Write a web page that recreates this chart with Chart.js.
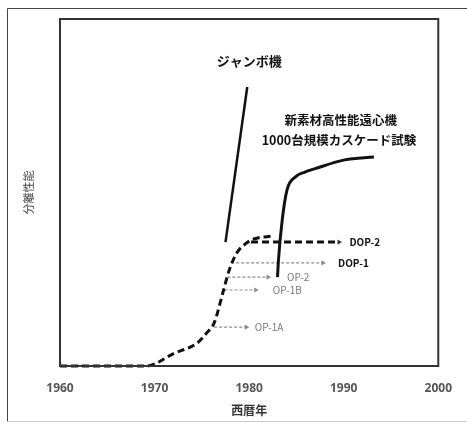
<!DOCTYPE html>
<html><head><meta charset="utf-8">
<script src="https://cdn.jsdelivr.net/npm/chart.js@4/dist/chart.umd.min.js"></script>
<style>html,body{margin:0;padding:0;background:#fff}#wrap{width:467px;height:423px}</style>
</head><body><div id="wrap"><canvas id="c" width="467" height="423"></canvas></div>
<script>
const xTicks = [1960, 1970, 1980, 1990, 2000];
const mainX = [1960, 1969.1, 1972.1, 1974.5, 1975.5, 1976.3, 1977.3, 1977.9, 1978.7, 1979.7, 1980.5, 1982.5];
const mainY = [0, 0, 3.7, 6.6, 9.5, 12.4, 21.9, 27.7, 32.6, 35.4, 36.6, 37.5];
const jumboX = [1977.5, 1979.8];
const jumboY = [35.7, 80.4];
const newMatX = [1983.0, 1983.1, 1983.5, 1984.0, 1984.9, 1985.9, 1986.9, 1990.1, 1993.2];
const newMatY = [25.6, 30.5, 42.1, 50.7, 54.5, 55.9, 56.8, 59.4, 60.2];
const dop2X = [1980.2, 1989.5]; const dop2Y = [35.7, 35.7];
const dop1X = [1978.1, 1987.8]; const dop1Y = [29.7, 29.7];
const op2X = [1977.7, 1982.0]; const op2Y = [25.6, 25.6];
const op1bX = [1977.4, 1980.7]; const op1bY = [21.9, 21.9];
const op1aX = [1976.3, 1979.7]; const op1aY = [11.2, 11.2];
const labelTexts = ["DOP-2", "DOP-1", "OP-2", "OP-1B", "OP-1A", "ジャンボ機", "新素材高性能遠心機", "1000台規模カスケード試験"];
const labelX = [1990.6, 1989.4, 1984.0, 1982.5, 1980.6, 1980.0, 1989.7, 1989.5];
const labelY = [35.7, 29.7, 25.6, 21.9, 11.2, 87.9, 70.9, 65.1];
const xTitle = "西暦年";
const yTitle = "分離性能";

const pts = (xs, ys) => xs.map((x, i) => ({x: x, y: ys[i]}));
const lastOnly = r => ctx => ctx.dataIndex === ctx.dataset.data.length - 1 ? r : 0;
const jp = '"Noto Sans CJK JP", "Noto Sans", sans-serif';

const labelStyles = [
  {font: 'bold 10px ' + jp, color: '#111', align: 'left'},
  {font: 'bold 10px ' + jp, color: '#111', align: 'left'},
  {font: '10px ' + jp, color: '#777', align: 'left'},
  {font: '10px ' + jp, color: '#777', align: 'left'},
  {font: '10px ' + jp, color: '#777', align: 'left'},
  {font: 'bold 13px ' + jp, color: '#111', align: 'center'},
  {font: 'bold 12.5px ' + jp, color: '#111', align: 'center'},
  {font: 'bold 12.5px ' + jp, color: '#111', align: 'center'}
];

const framePlugin = {
  id: 'frame',
  beforeDraw(chart) {
    const c = chart.ctx;
    c.save();
    c.strokeStyle = '#444'; c.lineWidth = 1;
    c.beginPath();
    c.moveTo(7.5, 421.5); c.lineTo(7.5, 8.5); c.lineTo(467, 8.5);
    c.stroke();
    c.strokeStyle = '#ccc';
    c.beginPath(); c.moveTo(7.5, 421.5); c.lineTo(467, 421.5); c.stroke();
    c.restore();
  },
  afterDatasetsDraw(chart) {
    const c = chart.ctx, a = chart.chartArea;
    const xs = chart.scales.x, ys = chart.scales.y;
    c.save();
    c.strokeStyle = '#333'; c.lineWidth = 2;
    c.strokeRect(a.left, a.top, a.right - a.left, a.bottom - a.top);
    c.textBaseline = 'middle';
    labelTexts.forEach((t, i) => {
      const s = labelStyles[i];
      c.font = s.font; c.fillStyle = s.color; c.textAlign = s.align;
      c.fillText(t, xs.getPixelForValue(labelX[i]), ys.getPixelForValue(labelY[i]));
    });
    c.restore();
  }
};

const thin = (xs, ys) => ({
  data: pts(xs, ys), borderColor: '#8a8a8a', borderWidth: 1.2, borderDash: [3, 2],
  pointStyle: 'triangle', rotation: 90, pointRadius: lastOnly(3),
  pointBackgroundColor: '#8a8a8a', pointBorderColor: '#8a8a8a', pointBorderWidth: 0
});

new Chart(document.getElementById('c'), {
  type: 'line',
  data: {
    datasets: [
      {data: pts(mainX, mainY), borderColor: '#111', borderWidth: 3, borderDash: [7, 4],
       cubicInterpolationMode: 'monotone', pointRadius: 0, clip: false},
      {data: pts(jumboX, jumboY), borderColor: '#111', borderWidth: 2.5, pointRadius: 0},
      {data: pts(newMatX, newMatY), borderColor: '#111', borderWidth: 3,
       cubicInterpolationMode: 'monotone', pointRadius: 0},
      {data: pts(dop2X, dop2Y), borderColor: '#111', borderWidth: 3, borderDash: [7, 4],
       pointStyle: 'triangle', rotation: 90, pointRadius: lastOnly(3),
       pointBackgroundColor: '#333', pointBorderColor: '#333', pointBorderWidth: 0},
      thin(dop1X, dop1Y), thin(op2X, op2Y), thin(op1bX, op1bY), thin(op1aX, op1aY)
    ]
  },
  options: {
    responsive: false, animation: false,
    layout: {padding: {left: 18, top: 19, right: 22, bottom: 0}},
    plugins: {legend: {display: false}, tooltip: {enabled: false}},
    scales: {
      x: {
        type: 'linear', min: 1960, max: 2000,
        afterBuildTicks: s => { s.ticks = xTicks.map(v => ({value: v})); },
        afterFit: s => { s.height = 57; },
        grid: {display: false, drawTicks: false}, border: {display: false},
        ticks: {padding: 15, autoSkip: false, maxRotation: 0, color: '#555',
                callback: v => String(v),
                font: {family: '"Open Sans", "Noto Sans", sans-serif', size: 12, weight: 'bold'}},
        title: {display: true, text: xTitle, color: '#333', padding: {top: 0, bottom: 5},
                font: {family: jp, size: 12, weight: 'bold'}}
      },
      y: {
        min: 0, max: 100,
        afterFit: s => { s.width = 42; },
        grid: {display: false, drawTicks: false}, border: {display: false},
        ticks: {display: false},
        title: {display: true, text: yTitle, color: '#444', padding: {top: 4, bottom: 4},
                font: {family: jp, size: 11}}
      }
    }
  },
  plugins: [framePlugin]
});
</script></body></html>
